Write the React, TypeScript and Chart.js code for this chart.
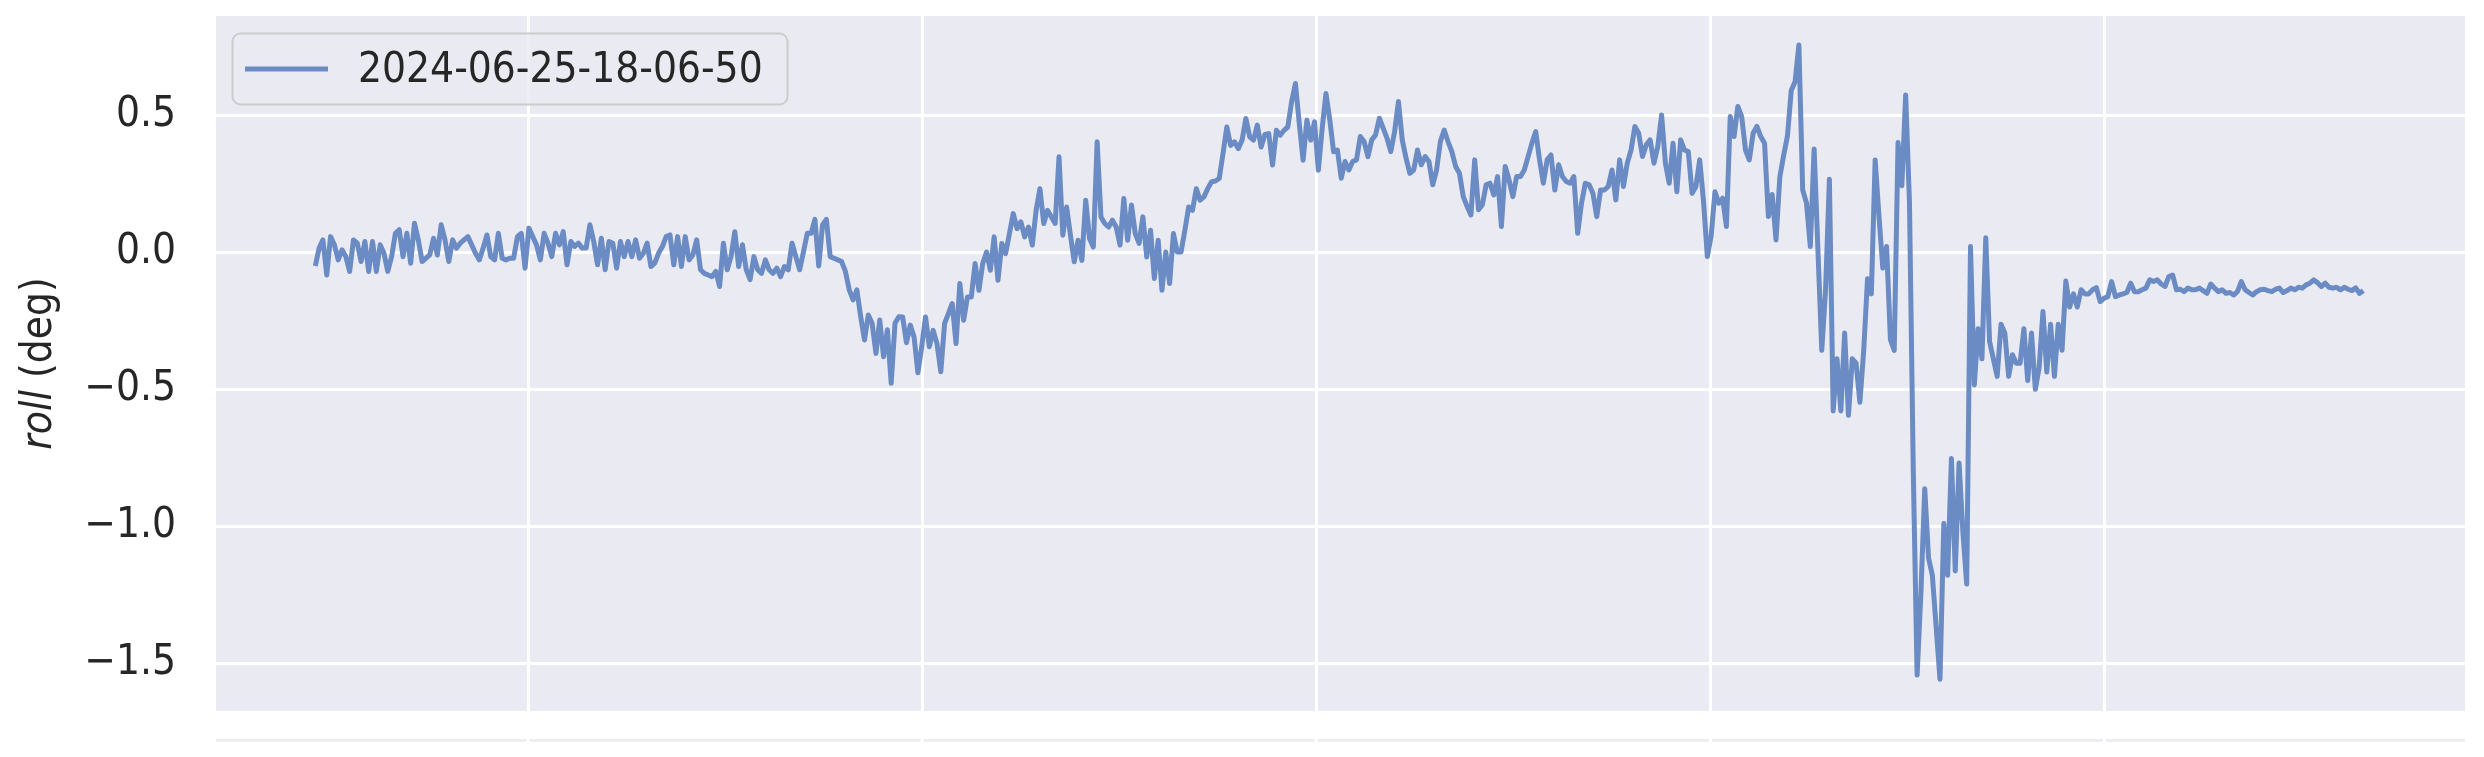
import React, { useEffect, useRef } from "react";
import { Chart, registerables } from "chart.js";

Chart.register(...registerables);

// ---------------- data ----------------
const SERIES_LABEL = "2024-06-25-18-06-50";
const Y_LABEL_ITALIC = "roll";
const Y_LABEL_REST = " (deg)";
const Y_TICKS = [-1.5, -1.0, -0.5, 0.0, 0.5];
const X_GRID = [100, 200, 300, 400, 500];
const X_MIN = 20.83;
const X_MAX = 591.5;
const Y_MIN = -1.674;
const Y_MAX = 0.862;
// uniformly sampled time axis (x labels are hidden in the source)
const T_START = 46.03;
const T_END = 565.7;

const ROLL_A = [
  -0.05, 0.015, 0.045, -0.083, 0.057, 0.027, -0.028, 0.009, -0.016, -0.07,
  0.045, 0.033, -0.034, 0.039, -0.07, 0.039, -0.07, 0.027, -0.004, -0.07,
  -0.016, 0.069, 0.082, -0.016, 0.069, -0.04, 0.106, 0.045, -0.034, -0.022,
  -0.01, 0.051, -0.01, 0.1, 0.045, -0.034, 0.045, 0.015, 0.033, 0.045,
  0.057, 0.027, -0.004, -0.028, 0.015, 0.063, -0.016, -0.028, 0.069, -0.022,
  -0.028, -0.022, -0.022, 0.057, 0.069, -0.058, 0.088, 0.057, 0.027, -0.028,
  0.069, 0.033, -0.016, 0.069, 0.027, 0.075, -0.046, 0.039, 0.021, 0.033,
  0.015, 0.015, 0.1, 0.039, -0.046, 0.051, -0.064, 0.039, 0.033, -0.058,
  0.039, -0.016, 0.039, -0.016, 0.045, -0.022, -0.004, 0.033, -0.052, -0.04,
  -0.004, 0.021, 0.057, 0.063, -0.046, 0.057, -0.052, 0.057, -0.028, -0.01,
  0.045, -0.064, -0.077, -0.083, -0.089, -0.07, -0.125, 0.033, -0.064, -0.016,
  0.075, -0.052, 0.027, -0.064, -0.1, -0.016, -0.064, -0.077, -0.028, -0.064,
  -0.077, -0.058, -0.089, -0.052, -0.064, 0.033, -0.016, -0.064, 0.002, 0.069,
  0.069, 0.12, -0.05, 0.1, 0.12, -0.016, -0.022, -0.028, -0.034, -0.07,
  -0.137, -0.174, -0.137, -0.235, -0.32, -0.229, -0.259, -0.369, -0.247, -0.381,
  -0.283, -0.478, -0.259, -0.235,
];

const ROLL_B = [
  -0.236, -0.33, -0.266, -0.309, -0.44, -0.345, -0.236, -0.345, -0.285, -0.333,
  -0.436, -0.26, -0.224, -0.187, -0.333, -0.114, -0.248, -0.163, -0.163, -0.041,
  -0.139, -0.041, 0.001, -0.066, 0.056, -0.102, 0.032, -0.005, 0.068, 0.141,
  0.086, 0.111, 0.056, 0.092, 0.026, 0.153, 0.232, 0.105, 0.153, 0.129,
  0.105, 0.348, 0.062, 0.165, 0.062, -0.035, 0.044, -0.03, 0.19, 0.05,
  0.019, 0.403, 0.129, 0.105, 0.092, 0.117, 0.092, 0.026, 0.196, 0.044,
  0.172, 0.068, 0.032, 0.129, -0.017, 0.08, -0.096, 0.044, -0.139, 0.001,
  -0.114, 0.068, 0.001, 0.001, 0.08, 0.165, 0.153, 0.232, 0.19, 0.202,
  0.232, 0.257, 0.26, 0.269, 0.36, 0.457, 0.39, 0.403, 0.378, 0.409,
  0.488, 0.421, 0.409, 0.464, 0.384, 0.43, 0.433, 0.318, 0.445, 0.427,
  0.445, 0.457, 0.55, 0.616, 0.47, 0.336, 0.482, 0.409, 0.476, 0.299,
  0.451, 0.579,
];

const ROLL_C = [
  0.483, 0.367, 0.373, 0.27, 0.331, 0.3, 0.331, 0.337, 0.422, 0.404,
  0.349, 0.41, 0.428, 0.489, 0.453, 0.416, 0.367, 0.44, 0.55, 0.41,
  0.343, 0.288, 0.3, 0.373, 0.319, 0.349, 0.331, 0.246, 0.3, 0.404,
  0.446, 0.404, 0.367, 0.313, 0.288, 0.203, 0.167, 0.136, 0.337, 0.155,
  0.173, 0.246, 0.252, 0.209, 0.276, 0.094, 0.313, 0.264, 0.203, 0.276,
  0.276, 0.3, 0.349, 0.398, 0.44, 0.337, 0.252, 0.337, 0.355, 0.227,
  0.319, 0.276, 0.258, 0.252, 0.276, 0.069, 0.179, 0.252, 0.246, 0.215,
  0.13, 0.227, 0.227, 0.24, 0.3, 0.191, 0.337, 0.24, 0.325, 0.373,
  0.459, 0.434, 0.349, 0.392, 0.41, 0.325, 0.386, 0.501, 0.325, 0.252,
  0.398, 0.221, 0.41, 0.373, 0.367, 0.215, 0.24, 0.337, 0.185, -0.016,
  0.06, 0.221, 0.179, 0.197, 0.094, 0.495, 0.422, 0.532, 0.495, 0.373,
  0.337, 0.434, 0.459, 0.422, 0.398, 0.13,
];

const ROLL_D = [
  0.211, 0.045, 0.274, 0.353, 0.424, 0.59, 0.622, 0.756, 0.227, 0.179,
  0.021, 0.377, 0.006, -0.358, -0.137, 0.266, -0.579, -0.389, -0.579, -0.295,
  -0.595, -0.389, -0.405, -0.547, -0.358, -0.097, -0.152, 0.337, 0.132, -0.058,
  0.021, -0.318, -0.358, 0.4, 0.243, 0.574, 0.179, -0.8, -1.543, -1.243,
  -0.863, -1.116, -1.179, -1.369, -1.558, -0.99, -1.179, -0.753, -1.163, -0.769,
  -1.021, -1.211, 0.021, -0.484, -0.279, -0.389, 0.053, -0.326, -0.389, -0.453,
  -0.263, -0.295, -0.453, -0.374, -0.405, -0.405, -0.279, -0.468, -0.295, -0.5,
  -0.421, -0.216, -0.437, -0.263, -0.453, -0.263, -0.358, -0.105, -0.2, -0.152,
  -0.2, -0.137, -0.152, -0.152, -0.137, -0.129,
];

const ROLL_E = [
  -0.18, -0.168, -0.162, -0.107, -0.162, -0.156, -0.152, -0.147, -0.113, -0.144,
  -0.144, -0.137, -0.131, -0.101, -0.107, -0.101, -0.116, -0.125, -0.089, -0.083,
  -0.137, -0.135, -0.144, -0.131, -0.137, -0.137, -0.131, -0.14, -0.15, -0.116,
  -0.131, -0.144, -0.137, -0.15, -0.147, -0.156, -0.144, -0.107, -0.137, -0.147,
  -0.156, -0.144, -0.137, -0.135, -0.14, -0.144, -0.135, -0.131, -0.147, -0.14,
  -0.131, -0.137, -0.128, -0.131, -0.119, -0.113, -0.101, -0.111, -0.125, -0.113,
  -0.128, -0.131, -0.128, -0.137, -0.128, -0.135, -0.14, -0.13, -0.15, -0.14,
];

// ---------------- style ----------------
const FONT_FAMILY = "'DejaVu Sans Condensed', 'DejaVu Sans', sans-serif";
const FONT_SIZE = 42;
const TEXT_COLOR = "#262626";
const LINE_COLOR = "#6a8bc3";
const AXES_BG = "#eaeaf2";

const fmtTick = (v: number) => v.toFixed(1).replace("-", "\u2212");

const decorPlugin = {
  id: "decor",
  beforeDraw(chart: any) {
    const { ctx, chartArea, width, height } = chart;
    ctx.save();
    ctx.fillStyle = "#ffffff";
    ctx.fillRect(0, 0, width, height);
    ctx.fillStyle = AXES_BG;
    ctx.fillRect(chartArea.left, chartArea.top, chartArea.right - chartArea.left, chartArea.bottom - chartArea.top);
    ctx.restore();
  },
  afterDraw(chart: any) {
    const { ctx, chartArea } = chart;
    const xs = chart.scales.x;
    ctx.save();
    // top edge of the (cropped) subplot below
    const stripY = chartArea.bottom + 28;
    ctx.fillStyle = "#ededf3";
    ctx.fillRect(chartArea.left, stripY, chartArea.right - chartArea.left, 3);
    ctx.fillStyle = "#ffffff";
    X_GRID.forEach((v) => {
      const px = xs.getPixelForValue(v);
      ctx.fillRect(px - 1.5, stripY, 3, 3);
    });

    // legend
    const lx = chartArea.left + 16.5;
    const ly = chartArea.top + 17.5;
    const lw = 555;
    const lh = 71;
    ctx.beginPath();
    (ctx as any).roundRect(lx, ly, lw, lh, 8);
    ctx.fillStyle = "rgba(234,234,242,0.8)";
    ctx.fill();
    ctx.lineWidth = 2;
    ctx.strokeStyle = "#cccccc";
    ctx.stroke();
    ctx.beginPath();
    ctx.moveTo(lx + 12.5, ly + lh / 2);
    ctx.lineTo(lx + 95.5, ly + lh / 2);
    ctx.strokeStyle = LINE_COLOR;
    ctx.lineWidth = 5;
    ctx.stroke();
    ctx.fillStyle = TEXT_COLOR;
    ctx.font = `${FONT_SIZE}px ${FONT_FAMILY}`;
    ctx.textBaseline = "middle";
    ctx.textAlign = "left";
    ctx.fillText(chart.data.datasets[0].label, lx + 125.5, ly + lh / 2 + 2);

    // y axis label: italic "roll" + " (deg)"
    const cy = (chartArea.top + chartArea.bottom) / 2;
    ctx.translate(40, cy);
    ctx.rotate(-Math.PI / 2);
    const fItalic = `italic ${FONT_SIZE}px ${FONT_FAMILY}`;
    const fNormal = `${FONT_SIZE}px ${FONT_FAMILY}`;
    ctx.font = fItalic;
    const w1 = ctx.measureText(Y_LABEL_ITALIC).width;
    ctx.font = fNormal;
    const w2 = ctx.measureText(Y_LABEL_REST).width;
    const start = -(w1 + w2) / 2;
    ctx.textBaseline = "middle";
    ctx.font = fItalic;
    ctx.fillText(Y_LABEL_ITALIC, start, 0);
    ctx.font = fNormal;
    ctx.fillText(Y_LABEL_REST, start + w1, 0);
    ctx.restore();
  },
};

export default function App() {
  const canvasRef = useRef<HTMLCanvasElement | null>(null);

  useEffect(() => {
    document.body.style.margin = "0";
    const canvas = canvasRef.current;
    if (!canvas) return;
    const roll = [...ROLL_A, ...ROLL_B, ...ROLL_C, ...ROLL_D, ...ROLL_E];
    const dt = (T_END - T_START) / (roll.length - 1);
    const points = roll.map((v, i) => ({ x: T_START + i * dt, y: v }));

    const chart = new Chart(canvas, {
      type: "line",
      data: {
        datasets: [
          {
            label: SERIES_LABEL,
            data: points,
            borderColor: LINE_COLOR,
            borderWidth: 5,
            pointRadius: 0,
            tension: 0,
            fill: false,
            borderJoinStyle: "round",
          } as any,
        ],
      },
      options: {
        responsive: false,
        animation: false,
        devicePixelRatio: 1,
        layout: { padding: { left: 0, top: 16, right: 19, bottom: 46 } },
        plugins: {
          legend: { display: false },
          tooltip: { enabled: false },
        },
        scales: {
          x: {
            type: "linear",
            min: X_MIN,
            max: X_MAX,
            afterBuildTicks: (s: any) => {
              s.ticks = X_GRID.map((v) => ({ value: v }));
            },
            afterFit: (s: any) => {
              s.height = 0;
              s.paddingLeft = 0;
              s.paddingRight = 0;
            },
            ticks: { display: false },
            grid: { color: "#ffffff", lineWidth: 3, drawTicks: false },
            border: { display: false },
          },
          y: {
            type: "linear",
            min: Y_MIN,
            max: Y_MAX,
            afterBuildTicks: (s: any) => {
              s.ticks = Y_TICKS.map((v) => ({ value: v }));
            },
            afterFit: (s: any) => {
              s.width = 216;
              s.paddingTop = 0;
              s.paddingBottom = 0;
            },
            ticks: {
              padding: 40,
              color: TEXT_COLOR,
              font: { family: FONT_FAMILY, size: FONT_SIZE },
              callback: (v: any) => fmtTick(Number(v)),
            },
            grid: { color: "#ffffff", lineWidth: 3, drawTicks: false },
            border: { display: false },
          },
        },
      } as any,
      plugins: [decorPlugin],
    });
    return () => chart.destroy();
  }, []);

  return (
    <div style={{ width: 2484, height: 757 }}>
      <canvas ref={canvasRef} width={2484} height={757} style={{ display: "block" }} />
    </div>
  );
}
